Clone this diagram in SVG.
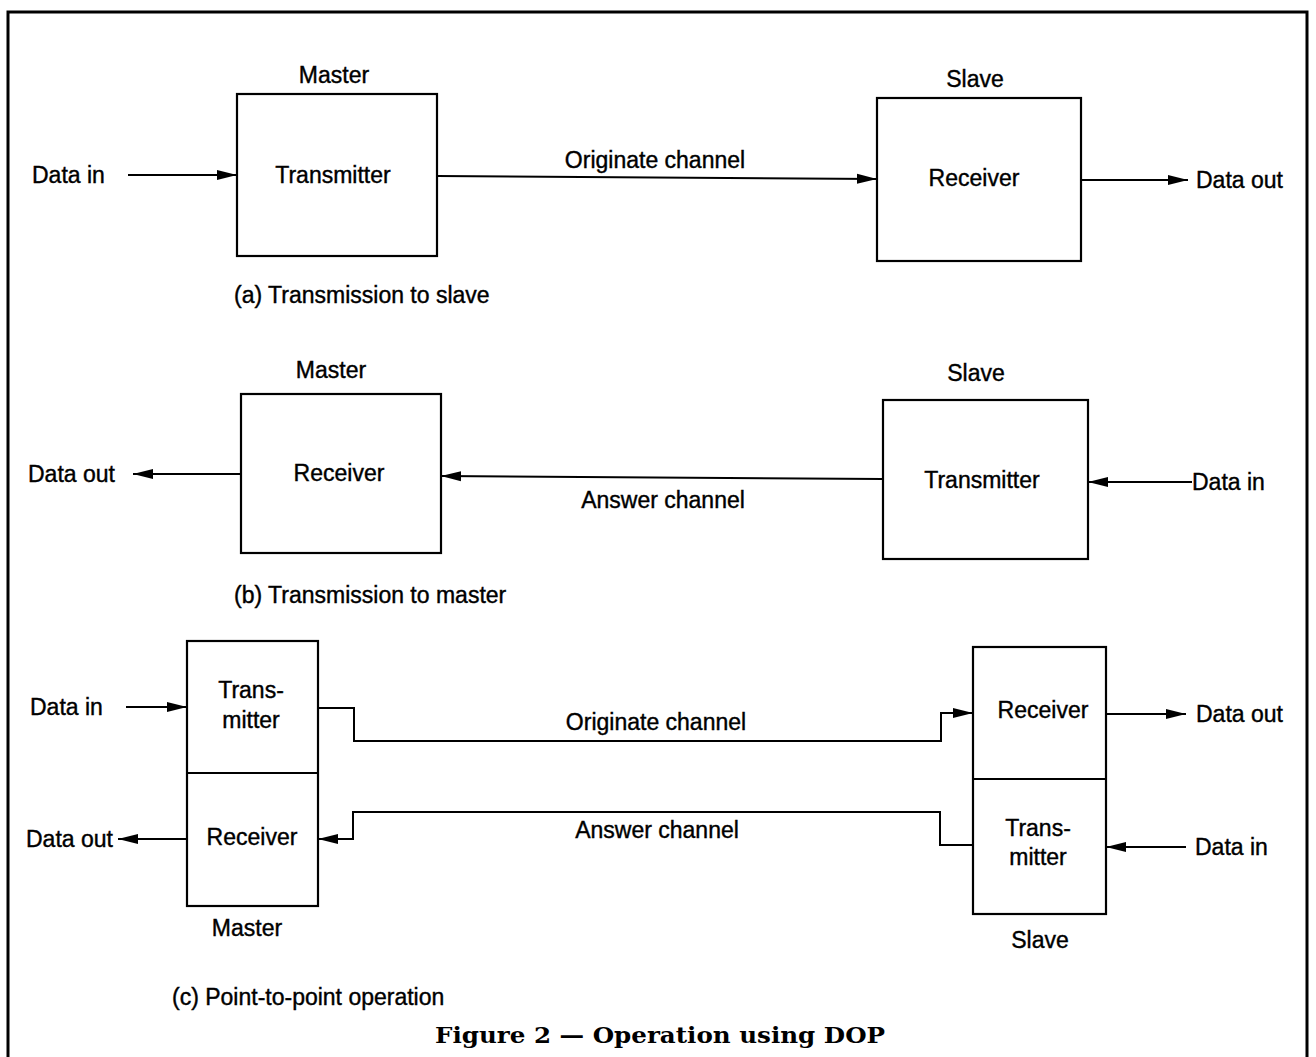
<svg xmlns="http://www.w3.org/2000/svg" width="1316" height="1057" viewBox="0 0 1316 1057">
<style>
text{font-family:"Liberation Sans",Arial,sans-serif;font-size:23px;fill:#000;stroke:#000;stroke-width:0.4}
.m{text-anchor:middle}
.box{fill:none;stroke:#000;stroke-width:2.2}
.ln{fill:none;stroke:#000;stroke-width:2}
.title{font-family:"DejaVu Serif","Liberation Serif",serif;font-weight:bold;font-size:22px;stroke-width:0}
</style>
<defs>
<marker id="ah" markerUnits="userSpaceOnUse" markerWidth="22" markerHeight="12" refX="20" refY="6" orient="auto">
<path d="M0,1 L20,6 L0,11 z" fill="#000"/>
</marker>
</defs>
<rect width="1316" height="1057" fill="#fff"/>
<path d="M8,1060 V12 H1307 V1060" fill="none" stroke="#000" stroke-width="3"/>

<g id="connectors">
<line class="ln" x1="128" y1="175" x2="237" y2="175" marker-end="url(#ah)"/>
<line class="ln" x1="437" y1="176" x2="877" y2="179" marker-end="url(#ah)"/>
<line class="ln" x1="1081" y1="180" x2="1188" y2="180" marker-end="url(#ah)"/>

<line class="ln" x1="241" y1="474" x2="133" y2="474" marker-end="url(#ah)"/>
<line class="ln" x1="883" y1="479" x2="441" y2="476" marker-end="url(#ah)"/>
<line class="ln" x1="1192" y1="482" x2="1088" y2="482" marker-end="url(#ah)"/>

<line class="ln" x1="126" y1="707" x2="187" y2="707" marker-end="url(#ah)"/>
<path class="ln" d="M318,708 H354 V741 H941 V713 H973" marker-end="url(#ah)"/>
<line class="ln" x1="1106" y1="714" x2="1186" y2="714" marker-end="url(#ah)"/>
<path class="ln" d="M973,845 H940 V812 H353 V839 H318" marker-end="url(#ah)"/>
<line class="ln" x1="187" y1="839" x2="118" y2="839" marker-end="url(#ah)"/>
<line class="ln" x1="1186" y1="847" x2="1106" y2="847" marker-end="url(#ah)"/>
</g>

<g id="a-master">
<text class="m" x="334" y="83">Master</text>
<rect class="box" x="237" y="94" width="200" height="162"/>
<text class="m" x="333" y="183">Transmitter</text>
</g>
<g id="a-slave">
<text class="m" x="975" y="87">Slave</text>
<rect class="box" x="877" y="98" width="204" height="163"/>
<text class="m" x="974" y="186">Receiver</text>
</g>
<g id="a-labels">
<text x="32" y="183">Data in</text>
<text class="m" x="655" y="168">Originate channel</text>
<text x="1196" y="188">Data out</text>
<text x="234" y="303">(a) Transmission to slave</text>
</g>

<g id="b-master">
<text class="m" x="331" y="378">Master</text>
<rect class="box" x="241" y="394" width="200" height="159"/>
<text class="m" x="339" y="481">Receiver</text>
</g>
<g id="b-slave">
<text class="m" x="976" y="381">Slave</text>
<rect class="box" x="883" y="400" width="205" height="159"/>
<text class="m" x="982" y="488">Transmitter</text>
</g>
<g id="b-labels">
<text x="28" y="482">Data out</text>
<text class="m" x="663" y="508">Answer channel</text>
<text x="1192" y="490">Data in</text>
<text x="234" y="603">(b) Transmission to master</text>
</g>

<g id="c-master">
<rect class="box" x="187" y="641" width="131" height="265"/>
<line class="box" x1="187" y1="773" x2="318" y2="773"/>
<text class="m" x="251" y="698">Trans-</text>
<text class="m" x="251" y="728">mitter</text>
<text class="m" x="252" y="845">Receiver</text>
<text class="m" x="247" y="936">Master</text>
</g>
<g id="c-slave">
<rect class="box" x="973" y="647" width="133" height="267"/>
<line class="box" x1="973" y1="779" x2="1106" y2="779"/>
<text class="m" x="1043" y="718">Receiver</text>
<text class="m" x="1038" y="836">Trans-</text>
<text class="m" x="1038" y="865">mitter</text>
<text class="m" x="1040" y="948">Slave</text>
</g>
<g id="c-labels">
<text x="30" y="715">Data in</text>
<text class="m" x="656" y="730">Originate channel</text>
<text x="1196" y="722">Data out</text>
<text x="26" y="847">Data out</text>
<text class="m" x="657" y="838">Answer channel</text>
<text x="1195" y="855">Data in</text>
<text x="172" y="1005">(c) Point-to-point operation</text>
</g>

<text class="title m" x="660" y="1043" textLength="450" lengthAdjust="spacingAndGlyphs">Figure 2 — Operation using DOP</text>
</svg>
